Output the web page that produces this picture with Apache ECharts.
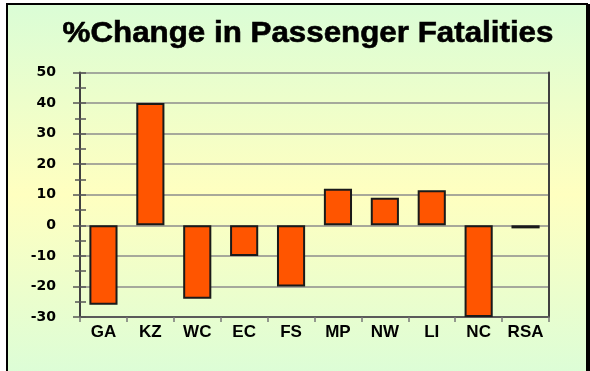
<!DOCTYPE html>
<html>
<head>
<meta charset="utf-8">
<style>
  html, body { margin: 0; padding: 0; background: #ffffff; }
  #chart { width: 590px; height: 371px; }
</style>
<script src="https://cdn.jsdelivr.net/npm/echarts@6/dist/echarts.min.js"></script>
</head>
<body>
<div id="chart"></div>
<script>
// Regions and their percentage change in passenger fatalities
const categories = ['GA', 'KZ', 'WC', 'EC', 'FS', 'MP', 'NW', 'LI', 'NC', 'RSA'];
const changePct = [-26, 40, -24, -10, -20, 12, 9, 11.5, -30, -1];
const yTicks = [-30, -20, -10, 0, 10, 20, 30, 40, 50];
const chartTitle = '%Change in Passenger Fatalities';

const yMin = yTicks[0];
const yMax = yTicks[yTicks.length - 1];
const yStep = yTicks[1] - yTicks[0];

const chart = echarts.init(document.getElementById('chart'), null, { renderer: 'canvas' });

const valueAxisBase = { type: 'value', min: yMin, max: yMax, interval: yStep };

chart.setOption({
  backgroundColor: '#ffffff',
  animation: false,
  graphic: [
    {
      type: 'rect',
      z: -10,
      silent: true,
      shape: { x: 7, y: 4, width: 580, height: 380 },
      style: {
        fill: {
          type: 'linear', x: 0, y: 0, x2: 0, y2: 1,
          colorStops: [
            { offset: 0, color: '#dafdd6' },
            { offset: 0.5, color: '#ffffc0' },
            { offset: 1, color: '#dafdd8' }
          ]
        },
        stroke: '#000000',
        lineWidth: 2
      }
    },
    {
      type: 'rect',
      z: -9,
      silent: true,
      shape: { x: 586, y: 4, width: 4, height: 380 },
      style: { fill: '#000000' }
    },
    {
      type: 'text',
      x: 308,
      y: 34,
      scaleX: 1.08,
      silent: true,
      style: {
        text: chartTitle,
        x: 0,
        y: 0,
        align: 'center',
        verticalAlign: 'middle',
        fontFamily: 'Liberation Sans',
        fontWeight: 'bold',
        fontSize: 29,
        fill: '#000000',
        stroke: '#000000',
        lineWidth: 0.6
      }
    }
  ],
  grid: { left: 80, right: 41, top: 72.5, bottom: 54, containLabel: false },
  xAxis: {
    type: 'category',
    data: categories,
    boundaryGap: true,
    axisLine: { onZero: false, lineStyle: { color: '#5a5a5a', width: 2 } },
    axisTick: { show: true, alignWithLabel: false, length: 5, lineStyle: { color: '#777777', width: 1.5 } },
    axisLabel: {
      interval: 0,
      hideOverlap: false,
      margin: 7,
      color: '#000000',
      fontFamily: 'Liberation Sans',
      fontWeight: 'bold',
      fontSize: 17
    },
    splitLine: { show: false }
  },
  yAxis: [
    Object.assign({}, valueAxisBase, {
      position: 'left',
      axisLine: { show: true, lineStyle: { color: '#404040', width: 2 } },
      axisTick: { show: true, length: 7, lineStyle: { color: '#555555', width: 1.5 } },
      minorTick: { show: true, splitNumber: 2, length: 5, lineStyle: { color: '#555555', width: 1.5 } },
      axisLabel: {
        margin: 24,
        color: '#000000',
        fontFamily: 'DejaVu Sans',
        fontWeight: 'bold',
        fontSize: 14
      },
      splitLine: { show: true, lineStyle: { color: '#8c8c8c', width: 1.5 } }
    }),
    Object.assign({}, valueAxisBase, {
      position: 'right',
      axisLine: { show: true, lineStyle: { color: '#404040', width: 2 } },
      axisTick: { show: false },
      axisLabel: { show: false },
      splitLine: { show: false }
    }),
    Object.assign({}, valueAxisBase, {
      position: 'left',
      offset: 0,
      axisLine: { show: false },
      axisTick: { show: true, inside: true, length: 6, lineStyle: { color: '#555555', width: 1.5 } },
      minorTick: { show: true, splitNumber: 2, length: 6, lineStyle: { color: '#555555', width: 1.5 } },
      axisLabel: { show: false },
      splitLine: { show: false }
    })
  ],
  series: [
    {
      type: 'bar',
      data: changePct,
      yAxisIndex: 0,
      barWidth: '60%',
      itemStyle: {
        color: '#ff5500',
        borderColor: '#1a1a1a',
        borderWidth: 2
      }
    }
  ]
});
</script>
</body>
</html>
